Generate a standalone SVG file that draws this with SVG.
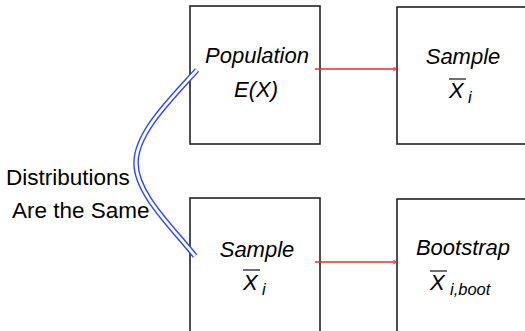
<svg xmlns="http://www.w3.org/2000/svg" width="525" height="331" viewBox="0 0 525 331">
  <style>
    .box { fill: #ffffff; stroke: #222222; stroke-width: 1.6; }
    .lbl { font-family: "Liberation Sans", Arial, sans-serif; font-size: 22px; fill: #000000; font-style: italic; }
    .sub { font-family: "Liberation Sans", Arial, sans-serif; font-size: 16.5px; fill: #000000; font-style: italic; }
    .plain { font-family: "Liberation Sans", Arial, sans-serif; font-size: 22.5px; fill: #000000; }
    .bar { stroke: #111111; stroke-width: 1.2; }
    .arrow { stroke: #e8283a; stroke-width: 1.4; fill: none; marker-end: url(#head); }
    .brace { fill: none; }
  </style>
  <defs>
    <marker id="head" viewBox="0 0 10 10" refX="9" refY="5" markerWidth="5" markerHeight="5" markerUnits="userSpaceOnUse" orient="auto">
      <path d="M1,1 L9,5 L1,9" fill="none" stroke="#e8283a" stroke-width="1.6"/>
    </marker>
    <path id="brace-path" d="M197,70 C170,100 136,133 136,163 C136,193 170,225 195,256"/>
  </defs>
  <rect width="525" height="331" fill="#ffffff"/>

  <g id="population">
    <rect class="box" x="190" y="6" width="130" height="138"/>
    <text class="lbl" x="257" y="63" text-anchor="middle">Population</text>
    <text class="lbl" x="256" y="97" text-anchor="middle" font-style="normal" font-size="23.5"><tspan font-style="italic">E</tspan>(<tspan font-style="italic">X</tspan>)</text>
  </g>

  <g id="sample-top">
    <rect class="box" x="397" y="7" width="140" height="137"/>
    <text class="lbl" x="463" y="64" text-anchor="middle">Sample</text>
    <line class="bar" x1="449" y1="79" x2="466" y2="79"/>
    <text class="lbl" x="449" y="98">X</text>
    <text class="sub" x="468" y="103">i</text>
  </g>

  <g id="sample-bottom">
    <rect class="box" x="190" y="198" width="130" height="150"/>
    <text class="lbl" x="257" y="257" text-anchor="middle">Sample</text>
    <line class="bar" x1="243" y1="270" x2="260" y2="270"/>
    <text class="lbl" x="243" y="290">X</text>
    <text class="sub" x="262" y="295">i</text>
  </g>

  <g id="bootstrap">
    <rect class="box" x="397" y="199" width="140" height="150"/>
    <text class="lbl" x="463" y="255" text-anchor="middle">Bootstrap</text>
    <line class="bar" x1="430" y1="271" x2="447" y2="271"/>
    <text class="lbl" x="430" y="290">X</text>
    <text class="sub" x="450" y="295">i,boot</text>
  </g>

  <g id="same-label">
    <text class="plain" x="6" y="185">Distributions</text>
    <text class="plain" x="12" y="218">Are the Same</text>
  </g>

  <g id="connectors">
    <line class="arrow" x1="315" y1="69" x2="397" y2="69"/>
    <line class="arrow" x1="315" y1="262" x2="397" y2="262"/>
    <!-- double-stroke brace linking the two distributions -->
    <use href="#brace-path" class="brace" stroke="#2a46ff" stroke-width="5.6"/>
    <use href="#brace-path" class="brace" stroke="#ffffff" stroke-width="2.8"/>
  </g>
</svg>
